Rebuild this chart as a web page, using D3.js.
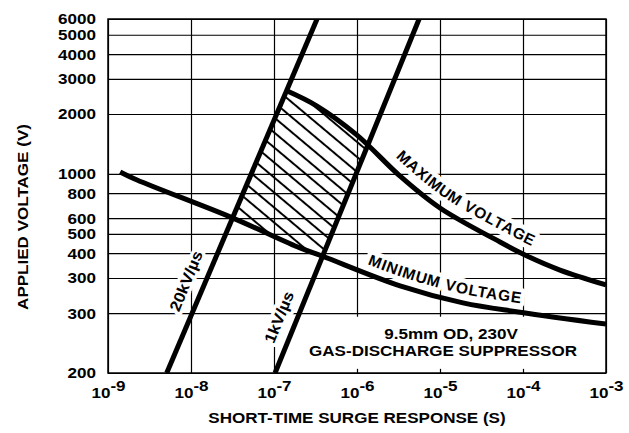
<!DOCTYPE html>
<html><head><meta charset="utf-8">
<script src="https://cdn.jsdelivr.net/npm/d3@7"></script>
<style>
body{margin:0;background:#fff;}
svg text{font-family:"Liberation Sans",Arial,Helvetica,sans-serif;font-weight:bold;}
</style></head><body>
<svg id="chart" width="629" height="433"></svg>
<script>
// ---- data ----
const xTickValues = [1e-9, 1e-8, 1e-7, 1e-6, 1e-5, 1e-4, 1e-3];
const xTickExponents = ["-9", "-8", "-7", "-6", "-5", "-4", "-3"];
const yTickValues = [6000, 5000, 4000, 3000, 2000, 1000, 800, 600, 500, 400, 300, 200, 100];
const yTickLabels = ["6000", "5000", "4000", "3000", "2000", "1000", "800", "600", "500", "400", "300", "300", "200"];

const maxTime = [1.36e-7, 3.3e-7, 1.0e-6, 3.3e-6, 1.0e-5, 5.28e-5, 1.12e-4, 2.79e-4, 1.0e-3];
const maxVolt = [2640, 2193, 1567, 975, 674, 455, 387, 329, 277];
const minTime = [1.40e-9, 2.24e-9, 3.21e-8, 2.06e-7, 3.79e-7, 3.3e-6, 1.89e-5, 9.2e-5, 1.0e-3];
const minVolt = [1023, 932, 600, 425, 387, 274, 225, 202, 176];

const rate20kTime = [5.1e-9, 3.3e-7];
const rate20kVolt = [100, 6000];
const rate1kTime = [1.03e-7, 5.6e-6];
const rate1kVolt = [100, 6000];

const maxLabel = "MAXIMUM VOLTAGE";
const minLabel = "MINIMUM VOLTAGE";
const rate20kLabel = "20kV/µs";
const rate1kLabel = "1kV/µs";
const noteLines = ["9.5mm OD, 230V", "GAS-DISCHARGE SUPPRESSOR"];
const xTitle = "SHORT-TIME SURGE RESPONSE (S)";
const yTitle = "APPLIED VOLTAGE (V)";

// ---- layout ----
const L = 108, R = 606, T = 19, B = 373;
const FS = 15.5, SX = 1.1;
const x = d3.scaleLog().domain([1e-9, 1e-3]).range([L, R]);
const y = d3.scaleLog().domain([100, 6000]).range([B, T]);

const svg = d3.select("#chart").style("font-size", FS + "px");
const defs = svg.append("defs");

const zip = (a, b) => a.map((v, i) => [v, b[i]]);
const maxPts = zip(maxTime, maxVolt);
const minPts = zip(minTime, minVolt);
const r20 = zip(rate20kTime, rate20kVolt);
const r1k = zip(rate1kTime, rate1kVolt);

const lineGen = d3.line().x(d => x(d[0])).y(d => y(d[1])).curve(d3.curveCatmullRom.alpha(0.5));
const straight = d3.line().x(d => x(d[0])).y(d => y(d[1]));

// ---- gridlines via axes ----
const gx = svg.append("g").attr("transform", `translate(0,${B})`)
  .call(d3.axisBottom(x).tickValues(xTickValues).tickSize(-(B - T)).tickPadding(14).tickFormat(() => ""));
gx.attr("font-size", null).attr("font-family", null);
gx.select(".domain").remove();
gx.selectAll(".tick line").attr("stroke", "#000").attr("stroke-width", 1.2);
gx.selectAll(".tick text").each(function (d, i) {
  const t = d3.select(this);
  t.text(null).attr("transform", `scale(${SX},1)`).style("font-size", FS + "px").attr("fill", "#000");
  t.append("tspan").text("10");
  t.append("tspan").attr("dy", "-0.42em").text(xTickExponents[i]);
});

const gy = svg.append("g").attr("transform", `translate(${L},0)`)
  .call(d3.axisLeft(y).tickValues(yTickValues).tickSize(-(R - L)).tickPadding(11)
    .tickFormat((d, i) => yTickLabels[i]));
gy.attr("font-size", null).attr("font-family", null);
gy.select(".domain").remove();
gy.selectAll(".tick line").attr("stroke", "#000").attr("stroke-width", 1.2);
gy.selectAll(".tick text").attr("transform", `scale(${SX},1)`).style("font-size", FS + "px").attr("fill", "#000");

// ---- axis titles ----
svg.append("text").attr("transform", `translate(${(L + R) / 2},423) scale(${SX},1)`)
  .attr("text-anchor", "middle").text(xTitle);
svg.append("text").attr("transform", `translate(28,217) rotate(-90) scale(${SX},1)`)
  .attr("text-anchor", "middle").text(yTitle);

// ---- note box ----
const note = svg.append("g");
note.append("text").attr("transform", `translate(451,339) scale(${SX},1)`).attr("text-anchor", "middle").text(noteLines[0]);
note.append("text").attr("transform", `translate(443,356) scale(${SX},1)`).attr("text-anchor", "middle").text(noteLines[1]);
const bb = note.node().getBBox();
note.insert("rect", ":first-child").attr("x", bb.x - 5).attr("y", bb.y - 8)
  .attr("width", bb.width + 10).attr("height", bb.height + 18).attr("fill", "#fff");

// ---- rate labels (halo layer, then ink layer) ----
function rotLabel(txt, cx, cy, ang) {
  [true, false].forEach(halo => {
    const t = svg.append("text")
      .attr("transform", `translate(${cx},${cy}) rotate(${ang}) scale(${SX},1)`)
      .attr("text-anchor", "middle").attr("dy", "0.35em").text(txt);
    if (halo) t.attr("fill", "#fff").attr("stroke", "#fff").attr("stroke-width", 7).attr("stroke-linejoin", "round");
    else t.attr("fill", "#000");
  });
}
rotLabel(rate20kLabel, 186, 281, -68);
rotLabel(rate1kLabel, 279, 317, -68);

// ---- curve labels on paths ----
defs.append("path").attr("id", "maxPathDef").attr("d", lineGen(maxPts));
defs.append("path").attr("id", "minPathDef").attr("d", lineGen(minPts));
function offsetAtX(node, px) {
  let lo = 0, hi = node.getTotalLength();
  for (let i = 0; i < 40; i++) {
    const m = (lo + hi) / 2;
    if (node.getPointAtLength(m).x < px) lo = m; else hi = m;
  }
  return lo;
}
function pathLabel(id, txt, startX, dy) {
  const node = document.getElementById(id);
  const off = offsetAtX(node, startX);
  [true, false].forEach(halo => {
    const t = svg.append("text").attr("dy", dy).attr("letter-spacing", "1px");
    if (halo) t.attr("fill", "#fff").attr("stroke", "#fff").attr("stroke-width", 9).attr("stroke-linejoin", "round");
    else t.attr("fill", "#000");
    t.append("textPath").attr("href", "#" + id).attr("startOffset", off).text(txt);
  });
}
pathLabel("maxPathDef", maxLabel, 388, -11);
pathLabel("minPathDef", minLabel, 364, -9);

// ---- hatched region ----
const clipA = defs.append("clipPath").attr("id", "rateClip");
clipA.append("path").attr("d", straight([r20[0], r20[1], r1k[1], r1k[0]]) + "Z");
defs.append("pattern").attr("id", "hatch").attr("patternUnits", "userSpaceOnUse")
  .attr("width", 20).attr("height", 11.5).attr("patternTransform", "rotate(40)")
  .append("line").attr("x1", -2).attr("x2", 22).attr("y1", 5.75).attr("y2", 5.75)
  .attr("stroke", "#000").attr("stroke-width", 2);
const regionPath = lineGen(maxPts) + "L" + lineGen(minPts.slice().reverse()).slice(1) + "Z";
svg.append("g").attr("clip-path", "url(#rateClip)")
  .append("path").attr("d", regionPath).attr("fill", "url(#hatch)");

// ---- thick lines ----
const plotClip = defs.append("clipPath").attr("id", "plotClip");
plotClip.append("rect").attr("x", L).attr("y", T).attr("width", R - L).attr("height", B - T);
const lines = svg.append("g").attr("clip-path", "url(#plotClip)");
lines.append("path").attr("d", lineGen(maxPts)).attr("fill", "none").attr("stroke", "#000").attr("stroke-width", 5);
lines.append("path").attr("d", lineGen(minPts)).attr("fill", "none").attr("stroke", "#000").attr("stroke-width", 5);
lines.append("path").attr("d", straight(r20)).attr("fill", "none").attr("stroke", "#000").attr("stroke-width", 5);
lines.append("path").attr("d", straight(r1k)).attr("fill", "none").attr("stroke", "#000").attr("stroke-width", 5);

// ---- frame ----
svg.append("rect").attr("x", L).attr("y", T).attr("width", R - L).attr("height", B - T)
  .attr("fill", "none").attr("stroke", "#000").attr("stroke-width", 1.5);
</script>
</body></html>
